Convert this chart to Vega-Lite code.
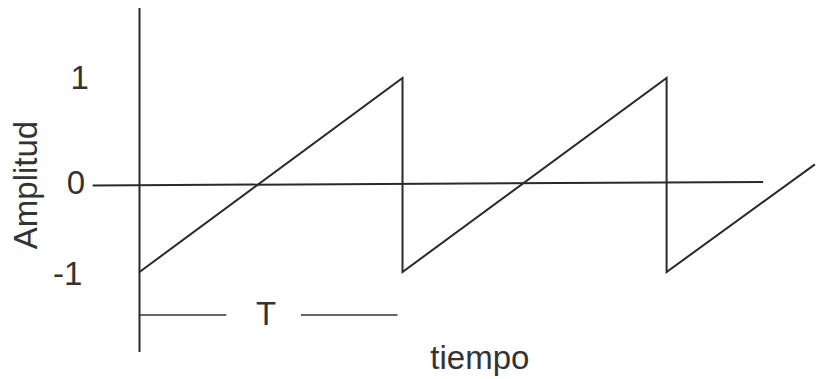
{
  "$schema": "https://vega.github.io/schema/vega-lite/v6.json",
  "width": 819,
  "height": 379,
  "padding": 0,
  "autosize": {"type": "fit", "contains": "padding"},
  "background": "white",
  "config": {"view": {"stroke": null}},
  "datasets": {
    "lines": [
      {"seg": "saw", "kind": "main", "ord": 1, "t": 0, "amp": -1},
      {"seg": "saw", "kind": "main", "ord": 2, "t": 1, "amp": 1},
      {"seg": "saw", "kind": "main", "ord": 3, "t": 1, "amp": -1},
      {"seg": "saw", "kind": "main", "ord": 4, "t": 2.004, "amp": 1},
      {"seg": "saw", "kind": "main", "ord": 5, "t": 2.004, "amp": -1},
      {"seg": "saw", "kind": "main", "ord": 6, "t": 2.568, "amp": 0.11},
      {"seg": "yaxis", "kind": "main", "ord": 1, "t": 0, "amp": 1.722},
      {"seg": "yaxis", "kind": "main", "ord": 2, "t": 0, "amp": -1.825},
      {"seg": "xaxis", "kind": "main", "ord": 1, "t": -0.178, "amp": -0.108},
      {"seg": "xaxis", "kind": "main", "ord": 2, "t": 2.371, "amp": -0.072},
      {"seg": "tleft", "kind": "bracket", "ord": 1, "t": 0, "amp": -1.443},
      {"seg": "tleft", "kind": "bracket", "ord": 2, "t": 0.33, "amp": -1.443},
      {"seg": "tright", "kind": "bracket", "ord": 1, "t": 0.614, "amp": -1.443},
      {"seg": "tright", "kind": "bracket", "ord": 2, "t": 0.981, "amp": -1.443}
    ],
    "labels": [
      {"label": "1", "kind": "h", "t": -0.227, "amp": 0.887},
      {"label": "0", "kind": "h", "t": -0.242, "amp": -0.196},
      {"label": "-1", "kind": "h", "t": -0.273, "amp": -1.134},
      {"label": "T", "kind": "h", "t": 0.481, "amp": -1.546},
      {"label": "tiempo", "kind": "h", "t": 1.294, "amp": -2.0},
      {"label": "Amplitud", "kind": "v", "t": -0.39, "amp": -0.103}
    ]
  },
  "encoding": {
    "x": {"field": "t", "type": "quantitative", "axis": null, "scale": {"domain": [-0.5303, 2.572], "nice": false, "zero": false}},
    "y": {"field": "amp", "type": "quantitative", "axis": null, "scale": {"domain": [-2.103, 1.804], "nice": false, "zero": false}}
  },
  "layer": [
    {
      "data": {"name": "lines"},
      "transform": [{"filter": "datum.kind === 'main'"}],
      "mark": {"type": "line", "color": "#2a2a2a", "strokeWidth": 2},
      "encoding": {
        "detail": {"field": "seg", "type": "nominal"},
        "order": {"field": "ord", "type": "quantitative"}
      }
    },
    {
      "data": {"name": "lines"},
      "transform": [{"filter": "datum.kind === 'bracket'"}],
      "mark": {"type": "line", "color": "#333333", "strokeWidth": 1.5},
      "encoding": {
        "detail": {"field": "seg", "type": "nominal"},
        "order": {"field": "ord", "type": "quantitative"}
      }
    },
    {
      "data": {"name": "labels"},
      "transform": [{"filter": "datum.kind === 'h'"}],
      "mark": {"type": "text", "font": "Liberation Sans", "fontSize": 33, "color": "#333333", "align": "center", "baseline": "alphabetic"},
      "encoding": {"text": {"field": "label", "type": "nominal"}}
    },
    {
      "data": {"name": "labels"},
      "transform": [{"filter": "datum.kind === 'v'"}],
      "mark": {"type": "text", "font": "Liberation Sans", "fontSize": 33, "color": "#333333", "align": "center", "baseline": "alphabetic", "angle": 270},
      "encoding": {"text": {"field": "label", "type": "nominal"}}
    }
  ]
}
